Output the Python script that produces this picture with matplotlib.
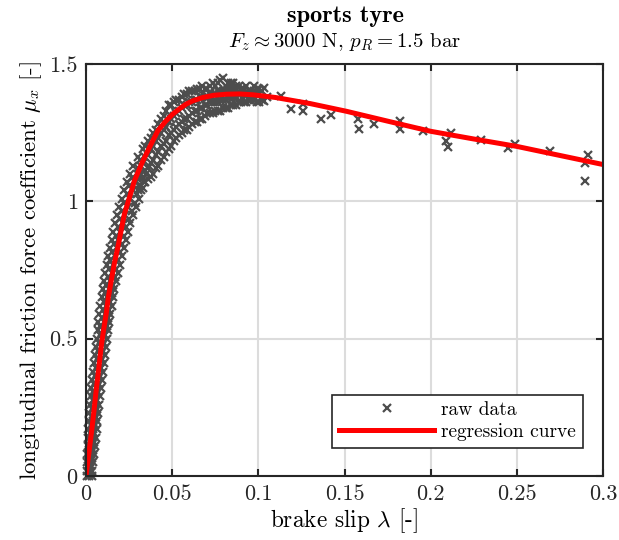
import matplotlib
matplotlib.use("Agg")
import matplotlib.pyplot as plt

plt.rcParams['font.family'] = ['cmr10', 'DejaVu Serif']
plt.rcParams['mathtext.fontset'] = 'cm'
plt.rcParams['axes.formatter.use_mathtext'] = True

# regression curve
curve_slip = [0.0, 0.001, 0.002, 0.0033, 0.0045, 0.0057, 0.007, 0.008, 0.009,
              0.0103, 0.0117, 0.013, 0.0146, 0.0165, 0.0185, 0.0204, 0.0223,
              0.0255, 0.0281, 0.0325, 0.0368, 0.0417, 0.046, 0.0504, 0.0545,
              0.0581, 0.062, 0.0678, 0.074, 0.0813, 0.089, 0.0968, 0.110,
              0.13, 0.151, 0.175, 0.2, 0.225, 0.25, 0.275, 0.3]
curve_mu = [0.0, 0.05, 0.10, 0.165, 0.23, 0.30, 0.37, 0.425, 0.48,
            0.535, 0.59, 0.652, 0.71, 0.775, 0.833, 0.895, 0.954,
            1.02, 1.075, 1.14, 1.196, 1.257, 1.29, 1.318, 1.338,
            1.354, 1.366, 1.378, 1.386, 1.39, 1.391, 1.388, 1.378,
            1.356, 1.328, 1.292, 1.255, 1.227, 1.20, 1.167, 1.134]

# raw data, steep part: friction level and slips across the band
ramp_mu = [0.00, 0.02, 0.05, 0.08, 0.11, 0.14, 0.17, 0.20, 0.23, 0.26, 0.29, 0.32,
           0.35, 0.38, 0.41, 0.44, 0.47, 0.50, 0.53, 0.56, 0.59, 0.62, 0.65, 0.68,
           0.71, 0.74, 0.77, 0.80, 0.83, 0.86, 0.89, 0.92, 0.95, 0.98, 1.01,
           1.04, 1.07, 1.10, 1.13]
ramp_slip = [
    [0.0003, 0.0018, 0.0032], [0.0006, 0.0022, 0.0036], [0.0005, 0.0024, 0.0042],
    [0.0008, 0.0028, 0.0047], [0.0009, 0.0031, 0.0052], [0.0012, 0.0035, 0.0057],
    [0.0014, 0.0038, 0.0061], [0.0017, 0.0042, 0.0066], [0.0020, 0.0046, 0.0070],
    [0.0023, 0.0050, 0.0075], [0.0027, 0.0054, 0.0080], [0.0031, 0.0058, 0.0085],
    [0.0035, 0.0063, 0.0090], [0.0040, 0.0068, 0.0096], [0.0045, 0.0073, 0.0102],
    [0.0050, 0.0079, 0.0108], [0.0056, 0.0086, 0.0115], [0.0062, 0.0092, 0.0122],
    [0.0067, 0.0098, 0.0128], [0.0072, 0.0104, 0.0134], [0.0078, 0.0110, 0.0141],
    [0.0084, 0.0117, 0.0149], [0.0090, 0.0124, 0.0157], [0.0097, 0.0131, 0.0165],
    [0.0104, 0.0139, 0.0174], [0.0112, 0.0148, 0.0184], [0.0120, 0.0157, 0.0195],
    [0.0129, 0.0167, 0.0206], [0.0138, 0.0177, 0.0218], [0.0148, 0.0188, 0.0231],
    [0.0158, 0.0200, 0.0244], [0.0169, 0.0213, 0.0258], [0.0181, 0.0227, 0.0273],
    [0.0194, 0.0242, 0.0289], [0.0207, 0.0258, 0.0306], [0.0222, 0.0270, 0.0322],
    [0.0238, 0.0285, 0.0335], [0.0255, 0.0300, 0.0350], [0.0272, 0.0318, 0.0365]]

# second pass through the steep part, between the levels above
ramp2_mu = [0.035, 0.065, 0.095, 0.125, 0.155, 0.185, 0.215, 0.245, 0.275, 0.305,
            0.335, 0.365, 0.395, 0.425, 0.455, 0.485, 0.515, 0.545, 0.575, 0.605,
            0.635, 0.665, 0.695, 0.725, 0.755, 0.785, 0.815, 0.845, 0.875, 0.905,
            0.935, 0.965, 0.995, 1.025, 1.055, 1.085]
ramp2_slip = [
    [0.0012, 0.0030], [0.0016, 0.0036], [0.0018, 0.0040], [0.0021, 0.0044],
    [0.0025, 0.0048], [0.0028, 0.0053], [0.0032, 0.0057], [0.0035, 0.0062],
    [0.0039, 0.0066], [0.0043, 0.0071], [0.0047, 0.0076], [0.0051, 0.0081],
    [0.0056, 0.0087], [0.0061, 0.0093], [0.0067, 0.0100], [0.0073, 0.0106],
    [0.0079, 0.0113], [0.0084, 0.0119], [0.0090, 0.0126], [0.0097, 0.0133],
    [0.0103, 0.0140], [0.0110, 0.0148], [0.0117, 0.0157], [0.0125, 0.0166],
    [0.0133, 0.0176], [0.0142, 0.0186], [0.0152, 0.0197], [0.0162, 0.0209],
    [0.0173, 0.0222], [0.0184, 0.0235], [0.0196, 0.0250], [0.0209, 0.0265],
    [0.0223, 0.0282], [0.0237, 0.0296], [0.0252, 0.0312], [0.0268, 0.0328]]

# raw data, around the peak: slip stations and friction values across the band
peak_slip = [0.030, 0.033, 0.036, 0.039, 0.042, 0.045, 0.048, 0.051, 0.054,
             0.057, 0.060, 0.063, 0.066, 0.069, 0.072, 0.075, 0.078, 0.081,
             0.084, 0.087, 0.090, 0.093, 0.096, 0.099, 0.102, 0.105]
peak_mu = [
    [1.04, 1.08, 1.12, 1.16], [1.05, 1.09, 1.14, 1.19], [1.08, 1.12, 1.17, 1.22],
    [1.10, 1.15, 1.20, 1.25], [1.13, 1.18, 1.23, 1.28], [1.16, 1.21, 1.26, 1.31],
    [1.19, 1.24, 1.29, 1.35], [1.22, 1.26, 1.31, 1.36], [1.24, 1.28, 1.33, 1.37],
    [1.26, 1.30, 1.35, 1.39], [1.27, 1.31, 1.36, 1.40], [1.29, 1.33, 1.37, 1.40],
    [1.30, 1.34, 1.38, 1.41], [1.31, 1.35, 1.38, 1.41], [1.32, 1.36, 1.39, 1.42],
    [1.33, 1.36, 1.39, 1.42], [1.33, 1.37, 1.40, 1.44], [1.34, 1.37, 1.40, 1.42],
    [1.35, 1.38, 1.41, 1.43], [1.35, 1.38, 1.41, 1.42], [1.36, 1.39, 1.41],
    [1.36, 1.39, 1.42], [1.37, 1.40], [1.36, 1.39, 1.41], [1.37, 1.40], [1.38]]

# second pass around the peak, between the stations above
peak2_slip = [0.0315, 0.0345, 0.0375, 0.0405, 0.0435, 0.0465, 0.0495, 0.0525,
              0.0555, 0.0585, 0.0615, 0.0645, 0.0675, 0.0705, 0.0735, 0.0765,
              0.0795, 0.0825, 0.0855, 0.0885, 0.0915, 0.0945, 0.0975, 0.1005]
peak2_mu = [
    [1.06, 1.10, 1.15], [1.07, 1.11, 1.16, 1.20], [1.09, 1.14, 1.19, 1.23],
    [1.12, 1.17, 1.22, 1.26], [1.15, 1.20, 1.25, 1.30], [1.18, 1.22, 1.27, 1.33],
    [1.20, 1.25, 1.30, 1.35], [1.23, 1.27, 1.32, 1.37], [1.25, 1.29, 1.34, 1.38],
    [1.26, 1.30, 1.35, 1.39], [1.28, 1.32, 1.36, 1.40], [1.29, 1.33, 1.37, 1.41],
    [1.30, 1.34, 1.38, 1.42], [1.32, 1.35, 1.38, 1.41], [1.32, 1.36, 1.39, 1.43],
    [1.33, 1.36, 1.40, 1.43], [1.34, 1.37, 1.40, 1.45], [1.34, 1.38, 1.41, 1.43],
    [1.35, 1.38, 1.41, 1.43], [1.36, 1.39, 1.42], [1.36, 1.39, 1.41],
    [1.37, 1.40], [1.37, 1.40, 1.42], [1.36, 1.39, 1.41]]

# raw data, sparse tail
tail_slip = [0.1035, 0.1035, 0.0967, 0.113, 0.119, 0.1257, 0.1257, 0.1364, 0.1422,
             0.1577, 0.1587, 0.167, 0.182, 0.182, 0.1954, 0.209, 0.212, 0.210,
             0.229, 0.2448, 0.2488, 0.269, 0.2913, 0.2893, 0.2893]
tail_mu = [1.413, 1.365, 1.377, 1.383, 1.335, 1.353, 1.328, 1.298, 1.316,
           1.298, 1.262, 1.280, 1.292, 1.262, 1.255, 1.219, 1.249, 1.197,
           1.225, 1.195, 1.207, 1.185, 1.170, 1.140, 1.073]

raw_slip, raw_mu = [], []
for levels, rows in ((ramp_mu, ramp_slip), (ramp2_mu, ramp2_slip)):
    for m, slips in zip(levels, rows):
        for s in slips:
            raw_slip.append(s)
            raw_mu.append(m)
for stations, cols in ((peak_slip, peak_mu), (peak2_slip, peak2_mu)):
    for s, mus in zip(stations, cols):
        for m in mus:
            raw_slip.append(s)
            raw_mu.append(m)
raw_slip += tail_slip
raw_mu += tail_mu

fig = plt.figure(figsize=(6.19, 5.40), dpi=100)
ax = fig.add_axes([86 / 619, 64 / 540, 517 / 619, 412 / 540])

ax.plot(raw_slip, raw_mu, 'x', color='#4d4d4d', markersize=5.4, mew=1.6,
        label='raw data', clip_on=False)
ax.plot(curve_slip, curve_mu, '-', color='red', lw=3.6, label='regression curve')

ax.set_xlim(0, 0.3)
ax.set_ylim(0, 1.5)
ax.set_xticks([0, 0.05, 0.1, 0.15, 0.2, 0.25, 0.3])
ax.set_xticklabels(['0', '0.05', '0.1', '0.15', '0.2', '0.25', '0.3'])
ax.set_yticks([0, 0.5, 1, 1.5])
ax.set_yticklabels(['0', '0.5', '1', '1.5'])
ax.grid(True, color='#dcdcdc', lw=1.5)
ax.set_axisbelow(True)
for sp in ax.spines.values():
    sp.set_linewidth(1.5)
    sp.set_color('#262626')
ax.tick_params(direction='in', length=5, width=1.5, top=True, right=True,
               labelsize=16, colors='#262626', pad=6)

ax.set_xlabel(r'brake slip $\lambda$ [-]', fontsize=16.8, labelpad=2)
ax.set_ylabel(r'longitudinal friction force coefficient $\mu_x$ [-]', fontsize=16.4,
              labelpad=4)
fig.text(345 / 619, 1 - 22 / 540, 'sports tyre', ha='center', va='baseline',
         fontsize=17.5, family=['cmb10', 'DejaVu Serif'])
fig.text(345 / 619, 1 - 47 / 540, r'$F_z \approx 3000$ N, $p_R = 1.5$ bar',
         ha='center', va='baseline', fontsize=15)

leg = ax.legend(loc='lower right', bbox_to_anchor=(0.961, 0.068), fontsize=14,
                fancybox=False, edgecolor='#262626', framealpha=1,
                handlelength=4.9, handletextpad=0.35, borderpad=0.35,
                labelspacing=0.2, borderaxespad=0)
leg.get_frame().set_linewidth(1.2)

fig.savefig('out.png', dpi=100)
